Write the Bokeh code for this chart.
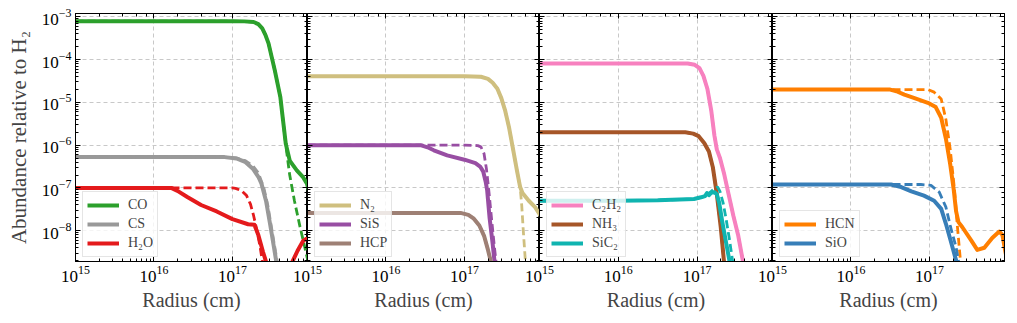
import numpy as np
from bokeh.plotting import figure
from bokeh.models import LogAxis, Legend, LegendItem, Range1d, CustomJSTickFormatter
from bokeh.layouts import row
from bokeh.embed import file_html
from bokeh.resources import INLINE

FONT = "'Liberation Serif'"

# ---------------- data (log10 radius [cm], log10 abundance) ----------------
# Panel 1
CO_logr = [15.0, 16.0, 17.0, 17.15, 17.27, 17.33, 17.38, 17.42, 17.46, 17.54, 17.61, 17.65, 17.68, 17.73, 17.82, 17.90, 17.95, 17.98, 18.0]
CO_logx = [-3.10, -3.10, -3.10, -3.105, -3.12, -3.17, -3.27, -3.42, -3.62, -4.25, -4.87, -5.50, -5.97, -6.36, -6.59, -6.75, -6.90, -7.10, -7.30]
CO_dash_logr = [15.0, 16.0, 17.0, 17.15, 17.27, 17.33, 17.38, 17.42, 17.46, 17.54, 17.61, 17.65, 17.68, 17.73, 17.79, 17.86, 17.93, 17.98]
CO_dash_logx = [-3.10, -3.10, -3.10, -3.105, -3.12, -3.17, -3.27, -3.42, -3.62, -4.25, -4.87, -5.50, -6.00, -6.70, -7.30, -7.90, -8.45, -8.85]

CS_logr = [15.0, 16.0, 16.90, 17.05, 17.16, 17.26, 17.33, 17.37, 17.43, 17.48, 17.53, 17.57, 17.62]
CS_logx = [-6.28, -6.28, -6.28, -6.31, -6.39, -6.55, -6.74, -6.90, -7.32, -7.85, -8.40, -8.85, -9.40]
CS_dash_logr = [15.0, 16.0, 16.90, 17.05, 17.16, 17.26, 17.33, 17.40, 17.45, 17.50, 17.55, 17.59, 17.63]
CS_dash_logx = [-6.28, -6.28, -6.28, -6.30, -6.36, -6.48, -6.65, -7.00, -7.40, -7.95, -8.50, -8.90, -9.40]

H2O_logr = [15.0, 16.0, 16.22, 16.30, 16.43, 16.60, 16.80, 17.00, 17.20, 17.28, 17.33, 17.39, 17.45, 17.50, 17.62, 17.75, 17.83, 17.90, 17.94, 17.97, 18.0]
H2O_logx = [-7.0, -7.0, -7.0, -7.07, -7.22, -7.40, -7.55, -7.73, -7.85, -7.86, -8.10, -8.50, -8.85, -9.20, -9.60, -8.78, -8.47, -8.24, -8.19, -8.21, -8.30]
H2O_dash_logr = [15.0, 16.0, 17.0, 17.04, 17.12, 17.18, 17.23, 17.27, 17.31, 17.35, 17.38, 17.41]
H2O_dash_logx = [-7.0, -7.0, -7.0, -7.01, -7.07, -7.18, -7.38, -7.65, -7.98, -8.35, -8.70, -9.10]

# Panel 2
N2_logr = [15.0, 16.0, 17.0, 17.21, 17.30, 17.36, 17.42, 17.47, 17.52, 17.57, 17.62, 17.67, 17.71, 17.74, 17.82, 17.90, 17.96, 18.0]
N2_logx = [-4.39, -4.39, -4.39, -4.40, -4.45, -4.54, -4.68, -4.90, -5.20, -5.60, -6.10, -6.60, -6.98, -7.12, -7.30, -7.45, -7.62, -7.75]
N2_dash_logr = [15.0, 16.0, 17.0, 17.21, 17.30, 17.36, 17.42, 17.47, 17.52, 17.57, 17.62, 17.67, 17.71, 17.73, 17.75, 17.78, 17.80]
N2_dash_logx = [-4.39, -4.39, -4.39, -4.40, -4.45, -4.54, -4.68, -4.90, -5.20, -5.60, -6.10, -6.60, -6.98, -7.40, -8.00, -8.80, -9.30]

SiS_logr = [15.0, 16.0, 16.44, 16.53, 16.61, 16.78, 17.0, 17.14, 17.20, 17.24, 17.27, 17.29, 17.32, 17.36, 17.39, 17.42]
SiS_logx = [-6.0, -6.0, -6.0, -6.05, -6.12, -6.24, -6.34, -6.42, -6.50, -6.62, -6.85, -7.06, -7.69, -8.31, -8.84, -9.20]
SiS_dash_logr = [15.0, 16.0, 17.0, 17.17, 17.21, 17.25, 17.28, 17.31, 17.35, 17.38, 17.41, 17.43]
SiS_dash_logx = [-6.0, -6.0, -6.0, -6.01, -6.04, -6.20, -6.55, -7.05, -7.80, -8.35, -8.85, -9.20]

HCP_logr = [15.0, 16.0, 16.95, 17.05, 17.12, 17.19, 17.25, 17.30, 17.34, 17.37]
HCP_logx = [-7.585, -7.585, -7.585, -7.63, -7.72, -7.88, -8.12, -8.45, -8.75, -9.10]

# Panel 3
C2H2_logr = [15.0, 16.0, 16.88, 16.97, 17.03, 17.08, 17.13, 17.18, 17.22, 17.25, 17.29, 17.34, 17.40, 17.46, 17.52, 17.58, 17.62]
C2H2_logx = [-4.09, -4.09, -4.09, -4.12, -4.20, -4.38, -4.68, -5.20, -5.78, -6.10, -6.30, -6.65, -7.15, -7.65, -8.10, -8.70, -9.10]

NH3_logr = [15.0, 16.0, 16.85, 16.95, 17.02, 17.09, 17.15, 17.20, 17.25, 17.30, 17.34, 17.37]
NH3_logx = [-5.70, -5.70, -5.70, -5.73, -5.79, -5.95, -6.15, -6.52, -7.14, -7.92, -8.70, -9.20]

SiC2_logr = [15.0, 16.0, 16.5, 16.96, 17.05, 17.10, 17.125, 17.15, 17.18, 17.22, 17.25, 17.28, 17.32, 17.37, 17.41, 17.44]
SiC2_logx = [-7.30, -7.30, -7.29, -7.26, -7.22, -7.19, -7.12, -7.17, -7.11, -7.10, -7.15, -7.35, -7.80, -8.30, -8.70, -9.10]
SiC2_dash_logr = [15.0, 16.0, 16.5, 16.96, 17.05, 17.10, 17.14, 17.18, 17.22, 17.26, 17.29, 17.33, 17.37, 17.41, 17.45, 17.47]
SiC2_dash_logx = [-7.30, -7.30, -7.29, -7.26, -7.22, -7.19, -7.14, -7.08, -7.02, -6.98, -7.08, -7.35, -7.75, -8.20, -8.70, -9.10]

# Panel 4
HCN_logr = [15.0, 16.0, 16.50, 16.58, 16.68, 16.81, 16.98, 17.08, 17.15, 17.21, 17.265, 17.31, 17.34, 17.37, 17.42, 17.53, 17.61, 17.70, 17.80, 17.89, 17.93, 17.96, 18.0]
HCN_logx = [-4.70, -4.70, -4.70, -4.74, -4.82, -4.90, -5.01, -5.11, -5.36, -5.85, -6.45, -7.05, -7.55, -7.80, -7.92, -8.22, -8.45, -8.40, -8.17, -8.02, -8.10, -8.41, -8.80]
HCN_dash_logr = [15.0, 16.0, 16.98, 17.06, 17.15, 17.21, 17.265, 17.32, 17.35, 17.38, 17.40, 17.42]
HCN_dash_logx = [-4.70, -4.70, -4.70, -4.76, -4.92, -5.40, -6.10, -7.05, -7.76, -8.39, -8.80, -9.20]

SiO_logr = [15.0, 16.0, 16.51, 16.64, 16.77, 16.93, 17.06, 17.15, 17.21, 17.27, 17.33, 17.36, 17.39]
SiO_logx = [-6.92, -6.92, -6.92, -6.98, -7.08, -7.18, -7.30, -7.49, -7.84, -8.23, -8.63, -8.82, -9.10]
SiO_dash_logr = [15.0, 16.0, 16.89, 17.02, 17.125, 17.21, 17.27, 17.34, 17.38, 17.40]
SiO_dash_logx = [-6.92, -6.92, -6.92, -6.94, -7.10, -7.45, -7.92, -8.39, -8.82, -9.10]

PANELS = [
    [("CO", CO_logr, CO_logx, CO_dash_logr, CO_dash_logx, "#2ca02c"),
     ("CS", CS_logr, CS_logx, CS_dash_logr, CS_dash_logx, "#999999"),
     ("H₂O", H2O_logr, H2O_logx, H2O_dash_logr, H2O_dash_logx, "#e41a1c")],
    [("N₂", N2_logr, N2_logx, N2_dash_logr, N2_dash_logx, "#cfbf7f"),
     ("SiS", SiS_logr, SiS_logx, SiS_dash_logr, SiS_dash_logx, "#984ea3"),
     ("HCP", HCP_logr, HCP_logx, HCP_logr, HCP_logx, "#9e8075")],
    [("C₂H₂", C2H2_logr, C2H2_logx, C2H2_logr, C2H2_logx, "#f781bf"),
     ("NH₃", NH3_logr, NH3_logx, NH3_logr, NH3_logx, "#a65628"),
     ("SiC₂", SiC2_logr, SiC2_logx, SiC2_dash_logr, SiC2_dash_logx, "#10b4b0")],
    [("HCN", HCN_logr, HCN_logx, HCN_dash_logr, HCN_dash_logx, "#ff7f00"),
     ("SiO", SiO_logr, SiO_logx, SiO_dash_logr, SiO_dash_logx, "#377eb8")],
]

X_LABEL = "Radius (cm)"
Y_LABEL = "Abundance relative to H₂"
X_RANGE = (1e15, 9.05e17)
Y_RANGE = (1.9e-9, 1.2e-3)

OVERLAP = 20
FRAME_WIDTHS = [232, 232, 233, 232]


def style_axis(ax, labels):
    ax.major_tick_in = 5
    ax.major_tick_out = 0
    ax.minor_tick_in = 3
    ax.minor_tick_out = 0
    ax.axis_line_color = "black"
    ax.major_tick_line_color = "black"
    ax.minor_tick_line_color = "black"
    if labels:
        ax.major_label_text_font = FONT
        ax.major_label_text_font_size = "17px"
        ax.major_label_text_color = "black"
        ax.major_label_standoff = 4
    else:
        ax.formatter = CustomJSTickFormatter(code="return ' '")
        ax.major_label_text_font_size = "1px"
        ax.major_label_text_color = None
        ax.major_label_standoff = 0


figs = []
for i, species in enumerate(PANELS):
    first = i == 0
    last = i == len(PANELS) - 1
    p = figure(x_axis_type="log", y_axis_type="log",
               x_range=Range1d(*X_RANGE), y_range=Range1d(*Y_RANGE),
               frame_width=FRAME_WIDTHS[i], frame_height=248,
               min_border_left=75 if first else OVERLAP,
               min_border_right=8 if last else 0,
               min_border_top=13, min_border_bottom=56,
               output_backend="svg", toolbar_location=None)
    p.outline_line_color = "black"
    p.outline_line_width = 1
    p.background_fill_color = "white"
    if not first:
        p.border_fill_color = None
        p.margin = (0, 0, 0, -OVERLAP)

    xa = p.xaxis[0]
    style_axis(xa, True)
    xa.axis_label = X_LABEL
    xa.axis_label_text_font = FONT
    xa.axis_label_text_font_size = "20px"
    xa.axis_label_text_font_style = "normal"
    xa.axis_label_standoff = 4

    ya = p.yaxis[0]
    style_axis(ya, first)
    if first:
        ya.axis_label = Y_LABEL
        ya.axis_label_text_font = FONT
        ya.axis_label_text_font_size = "21px"
        ya.axis_label_text_font_style = "normal"
        ya.axis_label_standoff = 8

    top = LogAxis()
    style_axis(top, False)
    p.add_layout(top, "above")
    right = LogAxis()
    style_axis(right, False)
    p.add_layout(right, "right")

    p.grid.grid_line_color = "#c8c8c8"
    p.grid.grid_line_dash = "4 3"
    p.grid.grid_line_width = 1

    items = []
    for name, lr, lx, dr, dx, color in species:
        s = p.line(10 ** np.array(lr), 10 ** np.array(lx), line_color=color,
                   line_width=4, line_join="round")
        p.line(10 ** np.array(dr), 10 ** np.array(dx), line_color=color,
               line_width=2.8, line_dash="8 4")
        items.append(LegendItem(label=name, renderers=[s]))

    legend = Legend(items=items, location=(7, 4), margin=0,
                    label_text_font=FONT, label_text_font_size="14px",
                    glyph_width=32, glyph_height=18, label_height=18,
                    label_standoff=9, spacing=1, padding=4,
                    border_line_color="#cccccc", border_line_width=1,
                    background_fill_color="white", background_fill_alpha=0.8)
    p.add_layout(legend)
    figs.append(p)

layout = row(*figs)
open("out.html", "w").write(file_html(layout, INLINE))
